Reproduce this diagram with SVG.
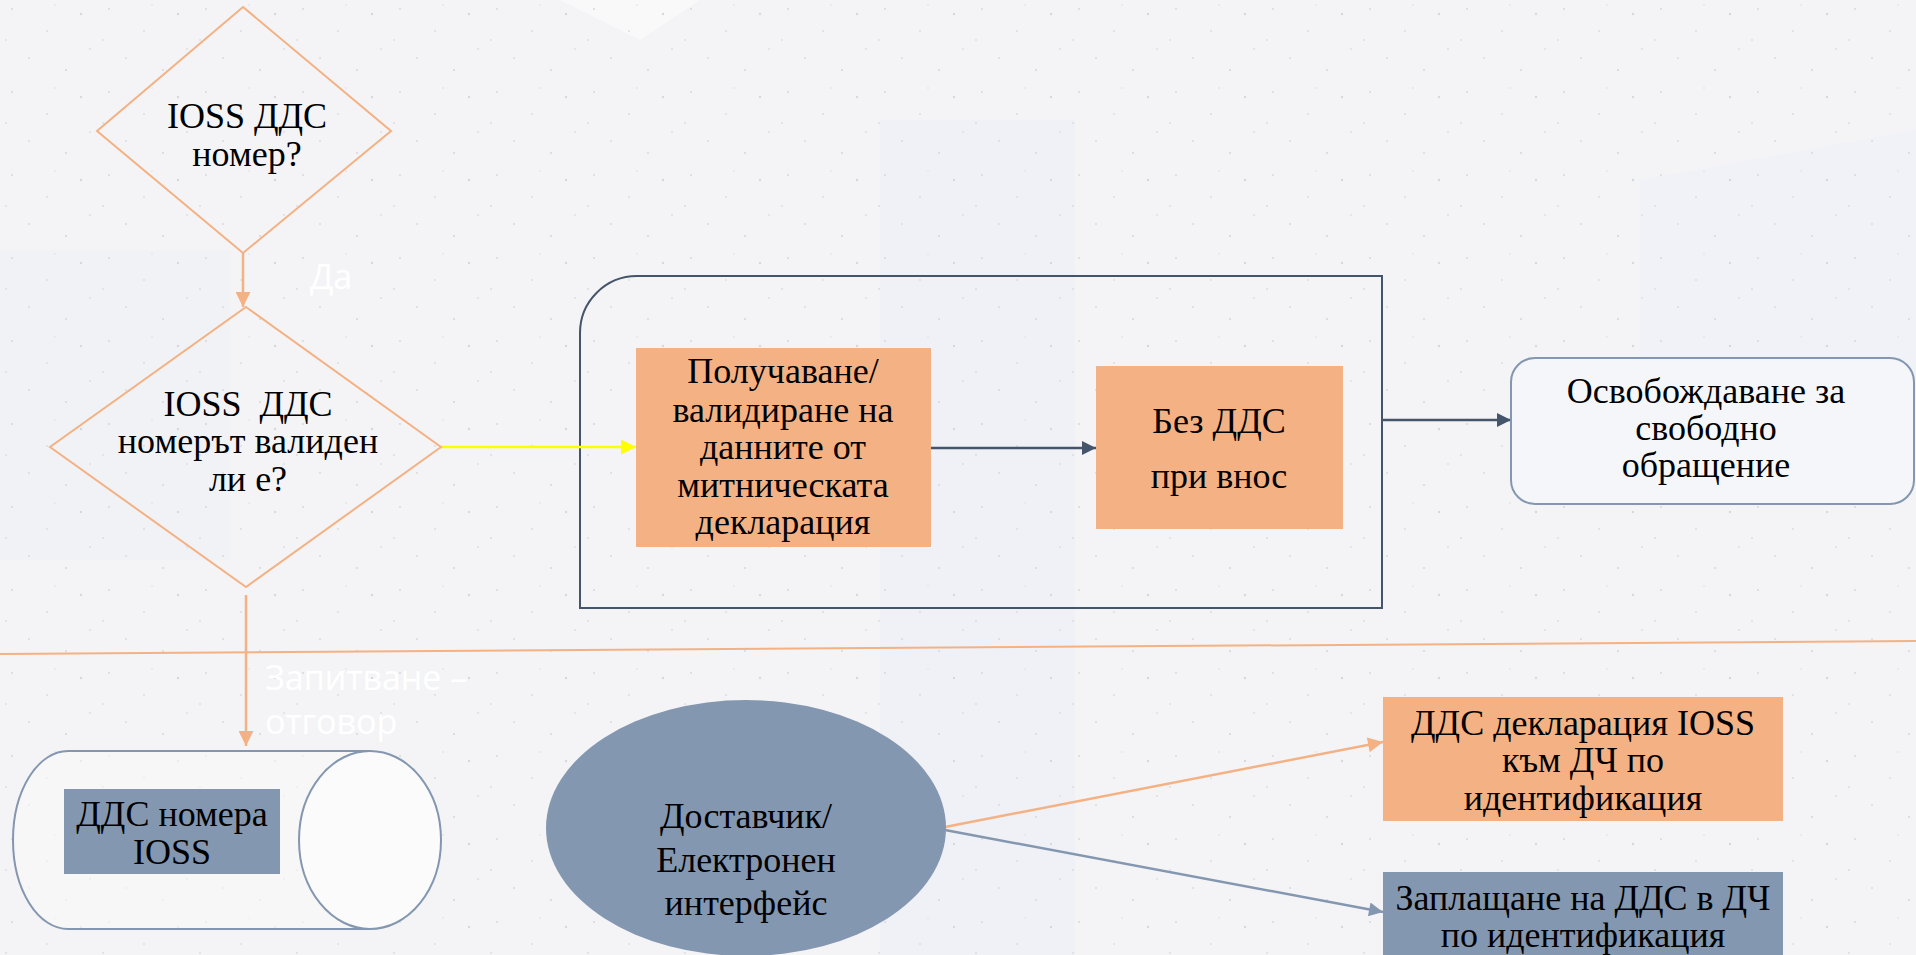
<svg xmlns="http://www.w3.org/2000/svg" width="1916" height="955" viewBox="0 0 1916 955">
  <defs>
    <pattern id="speckle" width="97" height="83" patternUnits="userSpaceOnUse">
      <circle cx="12" cy="9" r="1.1" fill="#d9dadf"/>
      <circle cx="47" cy="31" r="1" fill="#dcdde2"/>
      <circle cx="81" cy="14" r="1.2" fill="#d6d7dc"/>
      <circle cx="29" cy="58" r="1" fill="#dadbe0"/>
      <circle cx="66" cy="70" r="1.1" fill="#d8d9de"/>
      <circle cx="90" cy="49" r="0.9" fill="#dcdde2"/>
      <circle cx="6" cy="40" r="0.9" fill="#dadbe0"/>
      <circle cx="55" cy="5" r="0.8" fill="#dcdde2"/>
    </pattern>
    <marker id="arrOrange" viewBox="0 0 10 10" refX="10" refY="5" markerWidth="16" markerHeight="15" markerUnits="userSpaceOnUse" orient="auto">
      <path d="M0,0 L10,5 L0,10 Z" fill="#F4B183"/>
    </marker>
    <marker id="arrYellow" viewBox="0 0 10 10" refX="10" refY="5" markerWidth="16" markerHeight="15" markerUnits="userSpaceOnUse" orient="auto">
      <path d="M0,0 L10,5 L0,10 Z" fill="#FFFF00"/>
    </marker>
    <marker id="arrDark" viewBox="0 0 10 10" refX="10" refY="5" markerWidth="17" markerHeight="14" markerUnits="userSpaceOnUse" orient="auto">
      <path d="M0,0 L10,5 L0,10 Z" fill="#44546A"/>
    </marker>
    <marker id="arrBlue" viewBox="0 0 10 10" refX="10" refY="5" markerWidth="16" markerHeight="14" markerUnits="userSpaceOnUse" orient="auto">
      <path d="M0,0 L10,5 L0,10 Z" fill="#8497B0"/>
    </marker>
  </defs>
  <style>
    .t { font-family: "Liberation Serif", "Times New Roman", serif; font-size: 36px; fill: #000; text-anchor: middle; }
    .lbl { font-family: "Open Sans", "Noto Sans", sans-serif; font-size: 34px; fill: #ffffff; }
    .orangeFill { fill: #F4B183; }
    .blueFill { fill: #8497B0; }
    .decision { fill: none; stroke: #F4B183; stroke-width: 2; }
    .conn { fill: none; stroke-width: 2.5; }
  </style>

  <!-- background -->
  <rect x="0" y="0" width="1916" height="955" fill="#F4F4F6"/>
  <g>
    <polygon points="880,120 1075,120 1075,955 880,955" fill="#F0F1F6"/>
    <polygon points="0,250 230,250 230,560 0,560" fill="#F1F2F6"/>
    <polygon points="1640,180 1916,130 1916,400 1640,400" fill="#F1F2F7"/>
    <polygon points="560,0 700,0 640,40" fill="#F9F9FA"/>
  </g>
  <rect x="0" y="0" width="1916" height="955" fill="url(#speckle)"/>

  <!-- separator line -->
  <line x1="0" y1="654" x2="1916" y2="641" stroke="#F4B183" stroke-width="2"/>

  <!-- container -->
  <g id="container">
    <path d="M580,608 V333 A57,57 0 0 1 637,276 H1382 V608 Z" fill="none" stroke="#44546A" stroke-width="2"/>
  </g>

  <!-- connectors -->
  <g id="connectors">
    <line class="conn" x1="243" y1="253" x2="243" y2="307" stroke="#F4B183" marker-end="url(#arrOrange)"/>
    <line class="conn" x1="441" y1="447" x2="636" y2="447" stroke="#FFFF00" marker-end="url(#arrYellow)"/>
    <line class="conn" x1="931" y1="448" x2="1096" y2="448" stroke="#44546A" stroke-width="3" marker-end="url(#arrDark)"/>
    <line class="conn" x1="1382" y1="420" x2="1511" y2="420" stroke="#44546A" stroke-width="3" marker-end="url(#arrDark)"/>
    <line class="conn" x1="246" y1="595" x2="246" y2="746" stroke="#F4B183" marker-end="url(#arrOrange)"/>
    <line class="conn" x1="945" y1="827" x2="1383" y2="742" stroke="#F4B183" marker-end="url(#arrOrange)"/>
    <line class="conn" x1="945" y1="830" x2="1383" y2="912" stroke="#8497B0" marker-end="url(#arrBlue)"/>
  </g>

  <!-- connector labels -->
  <g id="labels">
    <text class="lbl" x="310" y="289">Да</text>
    <text class="lbl" x="265" y="690">Запитване –</text>
    <text class="lbl" x="265" y="734">отговор</text>
  </g>

  <g id="decision1">
    <polygon class="decision" points="243,7 391,131 243,253 97,131"/>
    <text class="t" x="247" y="128">IOSS ДДС</text>
    <text class="t" x="247" y="166">номер?</text>
  </g>

  <g id="decision2">
    <polygon class="decision" points="246,307 441,447 246,587 50,447"/>
    <text class="t" x="248" y="416" style="white-space:pre">IOSS  ДДС</text>
    <text class="t" x="248" y="453">номерът валиден</text>
    <text class="t" x="248" y="491">ли е?</text>
  </g>

  <g id="receive">
    <rect class="orangeFill" x="636" y="348" width="295" height="199"/>
    <text class="t" x="783" y="383">Получаване/</text>
    <text class="t" x="783" y="422">валидиране на</text>
    <text class="t" x="783" y="459">данните от</text>
    <text class="t" x="783" y="497">митническата</text>
    <text class="t" x="783" y="534">декларация</text>
  </g>

  <g id="novat">
    <rect class="orangeFill" x="1096" y="366" width="247" height="163"/>
    <text class="t" x="1219" y="433">Без ДДС</text>
    <text class="t" x="1219" y="488">при внос</text>
  </g>

  <g id="release">
    <rect x="1511" y="358" width="403" height="146" rx="24" fill="#F5F6F9" stroke="#8497B0" stroke-width="2"/>
    <text class="t" x="1706" y="403">Освобождаване за</text>
    <text class="t" x="1706" y="440">свободно</text>
    <text class="t" x="1706" y="477">обращение</text>
  </g>

  <g id="database">
    <path d="M370,751 H68 A55,89 0 0 0 68,929 H370" fill="#F8F8FA" fill-opacity="0.6" stroke="#8497B0" stroke-width="2"/>
    <ellipse cx="370" cy="840" rx="71" ry="89" fill="#FBFBFC" stroke="#8497B0" stroke-width="2"/>
    <rect class="blueFill" x="64" y="789" width="216" height="85"/>
    <text class="t" x="172" y="826">ДДС номера</text>
    <text class="t" x="172" y="864">IOSS</text>
  </g>

  <g id="supplier">
    <ellipse class="blueFill" cx="746" cy="828" rx="200" ry="128"/>
    <text class="t" x="746" y="828">Доставчик/</text>
    <text class="t" x="746" y="872">Електронен</text>
    <text class="t" x="746" y="915">интерфейс</text>
  </g>

  <g id="declaration">
    <rect class="orangeFill" x="1383" y="697" width="400" height="124"/>
    <text class="t" x="1583" y="735">ДДС декларация IOSS</text>
    <text class="t" x="1583" y="772">към ДЧ по</text>
    <text class="t" x="1583" y="810">идентификация</text>
  </g>

  <g id="payment">
    <rect class="blueFill" x="1383" y="872" width="400" height="90"/>
    <text class="t" x="1583" y="910">Заплащане на ДДС в ДЧ</text>
    <text class="t" x="1583" y="947">по идентификация</text>
  </g>
</svg>
